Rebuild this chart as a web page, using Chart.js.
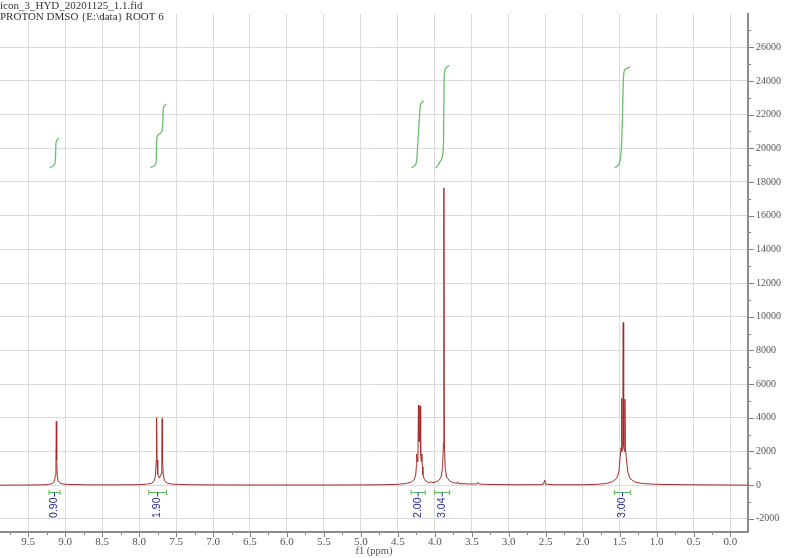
<!DOCTYPE html>
<html>
<head>
<meta charset="utf-8">
<title>PROTON DMSO</title>
<script src="https://cdn.jsdelivr.net/npm/chart.js@4.4.1/dist/chart.umd.min.js"></script>
<style>
  html, body { margin: 0; padding: 0; background: #fff; }
  canvas { display: block; }
</style>
</head>
<body>
<canvas id="nmr" width="800" height="558"></canvas>
<script>
// spectrum (ppm / intensity)
const specPpm = [9.88, 9.60, 9.30, 9.22, 9.17, 9.145, 9.132, 9.125, 9.120, 9.115, 9.108, 9.095, 9.07, 9.00,
  8.70, 8.30, 8.00, 7.90, 7.83, 7.795, 7.778, 7.768, 7.763, 7.758, 7.748, 7.725, 7.703, 7.693, 7.688, 7.683,
  7.673, 7.655, 7.62, 7.55, 7.30, 7.00, 6.50, 6.00, 5.50, 5.00, 4.70, 4.50, 4.40, 4.32, 4.28, 4.258, 4.250,
  4.244, 4.236, 4.228, 4.221, 4.214, 4.205, 4.198, 4.191, 4.183, 4.175, 4.169, 4.161, 4.14, 4.10, 4.065,
  4.052, 4.040, 4.00, 3.95, 3.915, 3.895, 3.883, 3.877, 3.871, 3.859, 3.84, 3.80, 3.75, 3.70, 3.690, 3.680,
  3.55, 3.430, 3.415, 3.400, 3.20, 2.90, 2.60, 2.530, 2.515, 2.500, 2.40, 2.00, 1.80, 1.68, 1.60, 1.54,
  1.51, 1.492, 1.480, 1.474, 1.468, 1.457, 1.451, 1.445, 1.434, 1.428, 1.422, 1.410, 1.39, 1.36, 1.30,
  1.20, 1.00, 0.60, 0.20, 0.00, -0.237];
const specInt = [0, 5, 20, 50, 110, 250, 600, 1500, 3800, 1500, 600, 250, 110, 50,
  20, 20, 30, 60, 120, 260, 600, 1500, 4000, 1500, 650, 420, 650, 1500, 3950, 1500,
  600, 260, 120, 60, 25, 15, 10, 10, 10, 15, 25, 50, 90, 180, 320, 600, 1100,
  1850, 1400, 1800, 4750, 2600, 2600, 4700, 1800, 1400, 1850, 1100, 600, 330, 190, 140,
  210, 150, 170, 260, 480, 1000, 2500, 17650, 2500, 1000, 480, 250, 150, 110, 200, 100,
  70, 70, 160, 65, 35, 25, 30, 60, 300, 60, 25, 25, 50, 100, 200, 400,
  800, 1700, 2200, 5150, 2000, 2300, 9650, 2300, 2000, 5100, 2200, 1700, 800, 400, 200,
  100, 50, 25, 15, 10, 5];

// integral curves
const int1Ppm = [9.210, 9.175, 9.150, 9.138, 9.132, 9.129, 9.126, 9.118, 9.100, 9.083];
const int1Val = [18840, 18920, 19020, 19150, 19400, 19800, 20200, 20420, 20540, 20600];
const int2Ppm = [7.846, 7.800, 7.775, 7.767, 7.765, 7.763, 7.755, 7.700, 7.685, 7.678, 7.675, 7.668, 7.629];
const int2Val = [18840, 18950, 19060, 19300, 19900, 20400, 20700, 20950, 21150, 21600, 22100, 22450, 22620];
const int3Ppm = [4.314, 4.270, 4.250, 4.240, 4.230, 4.215, 4.205, 4.198, 4.180, 4.147];
const int3Val = [18840, 18980, 19150, 19500, 20300, 21300, 22000, 22450, 22700, 22810];
const int4Ppm = [3.989, 3.950, 3.925, 3.890, 3.882, 3.878, 3.875, 3.870, 3.850, 3.805];
const int4Val = [18840, 19020, 19250, 19700, 20500, 22000, 23800, 24450, 24750, 24920];
const int5Ppm = [1.567, 1.520, 1.490, 1.470, 1.458, 1.450, 1.440, 1.410, 1.356];
const int5Val = [18840, 19000, 19350, 20500, 22500, 24000, 24550, 24720, 24840];

// integration ranges and their values
const rangeFrom = [9.22, 7.87, 4.32, 4.00, 1.57];
const rangeTo = [9.07, 7.63, 4.13, 3.80, 1.35];
const rangeLabels = ['0.90', '1.90', '2.00', '3.04', '3.00'];

// axis tick labels
const xTicks = [0.0, 0.5, 1.0, 1.5, 2.0, 2.5, 3.0, 3.5, 4.0, 4.5, 5.0, 5.5, 6.0, 6.5, 7.0, 7.5, 8.0, 8.5, 9.0, 9.5];
const yTicks = [-2000, 0, 2000, 4000, 6000, 8000, 10000, 12000, 14000, 16000, 18000, 20000, 22000, 24000, 26000];

const headerLines = ['icon_3_HYD_20201125_1.1.fid', 'PROTON DMSO {E:\\data} ROOT 6'];

function pts(xs, ys) {
  return xs.map((v, i) => ({ x: v, y: ys[i] }));
}

const integralStyle = {
  borderColor: '#6cbd6c',
  borderWidth: 1.3,
  pointRadius: 0,
  cubicInterpolationMode: 'monotone',
  fill: false
};

const serif = 'Liberation Serif';

const extras = {
  id: 'extras',
  afterDraw(chart) {
    const ctx = chart.ctx;
    const xs = chart.scales.x, ys = chart.scales.y;
    const area = chart.chartArea;
    ctx.save();

    // minor and major tick marks
    ctx.strokeStyle = '#808080';
    ctx.lineWidth = 1;
    ctx.beginPath();
    for (let i = -1; i <= 40; i++) {
      const v = i * 0.25;
      if (v < xs.min || v > xs.max) continue;
      const px = Math.round(xs.getPixelForValue(v)) + 0.5;
      const len = (i % 2 === 0) ? 4 : 2;
      ctx.moveTo(px, area.bottom + 1);
      ctx.lineTo(px, area.bottom + 1 + len);
    }
    for (let i = -2; i <= 27; i++) {
      const v = i * 1000;
      const py = Math.round(ys.getPixelForValue(v)) + 0.5;
      const len = (i % 2 === 0) ? 5 : 2;
      ctx.moveTo(area.right + 1, py);
      ctx.lineTo(area.right + 1 + len, py);
    }
    ctx.stroke();

    // integration brackets and values
    const by = Math.round(ys.getPixelForValue(-400)) + 0.5;
    ctx.font = '10.5px "Liberation Sans"';
    rangeFrom.forEach((f, i) => {
      const x1 = xs.getPixelForValue(f);
      const x2 = xs.getPixelForValue(rangeTo[i]);
      ctx.strokeStyle = '#5cb85c';
      ctx.lineWidth = 1;
      ctx.beginPath();
      ctx.moveTo(x1, by); ctx.lineTo(x2, by);
      ctx.moveTo(x1, by - 2.5); ctx.lineTo(x1, by + 2.5);
      ctx.moveTo(x2, by - 2.5); ctx.lineTo(x2, by + 2.5);
      ctx.stroke();
      const cx = (x1 + x2) / 2;
      ctx.strokeStyle = '#2a2a9a';
      ctx.beginPath();
      ctx.moveTo(cx, by); ctx.lineTo(cx, by + 4);
      ctx.stroke();
      ctx.save();
      ctx.translate(cx, by + 5);
      ctx.rotate(-Math.PI / 2);
      ctx.fillStyle = '#2a2a9a';
      ctx.textAlign = 'right';
      ctx.textBaseline = 'middle';
      ctx.fillText(rangeLabels[i], 0, 0);
      ctx.restore();
    });

    // file header
    ctx.fillStyle = '#333';
    ctx.font = '11px "' + serif + '"';
    ctx.textAlign = 'left';
    ctx.textBaseline = 'middle';
    headerLines.forEach((t, i) => ctx.fillText(t, 0, 6 + i * 11));
    ctx.restore();
  }
};

new Chart(document.getElementById('nmr').getContext('2d'), {
  type: 'line',
  data: {
    datasets: [
      { data: pts(specPpm, specInt), borderColor: '#a32b2b', borderWidth: 1, pointRadius: 0, tension: 0, fill: false },
      Object.assign({ data: pts(int1Ppm, int1Val) }, integralStyle),
      Object.assign({ data: pts(int2Ppm, int2Val) }, integralStyle),
      Object.assign({ data: pts(int3Ppm, int3Val) }, integralStyle),
      Object.assign({ data: pts(int4Ppm, int4Val) }, integralStyle),
      Object.assign({ data: pts(int5Ppm, int5Val) }, integralStyle)
    ]
  },
  options: {
    responsive: false,
    animation: false,
    layout: { padding: 0 },
    plugins: { legend: { display: false }, tooltip: { enabled: false } },
    scales: {
      x: {
        type: 'linear',
        reverse: true,
        min: -0.237,
        max: 9.882,
        afterBuildTicks(s) { s.ticks = xTicks.map(v => ({ value: v })); },
        afterFit(s) { s.height = 26; },
        grid: { color: '#dadada', drawTicks: false },
        border: { color: '#8c8c8c', width: 2 },
        ticks: {
          autoSkip: false,
          maxRotation: 0,
          padding: 4,
          color: '#555',
          font: { family: serif, size: 11 },
          callback: v => v.toFixed(1)
        },
        title: {
          display: true,
          text: 'f1 (ppm)',
          color: '#555',
          font: { family: serif, size: 10.5 },
          padding: 0
        }
      },
      y: {
        position: 'right',
        min: -2780,
        max: 27970,
        afterBuildTicks(s) { s.ticks = yTicks.map(v => ({ value: v })); },
        afterFit(s) { s.width = 52; },
        grid: { color: '#dadada', drawTicks: false },
        border: { color: '#8c8c8c', width: 2 },
        ticks: {
          autoSkip: false,
          padding: 8,
          color: '#555',
          font: { family: serif, size: 10 },
          callback: v => String(v)
        }
      }
    }
  },
  plugins: [extras]
});
</script>
</body>
</html>
